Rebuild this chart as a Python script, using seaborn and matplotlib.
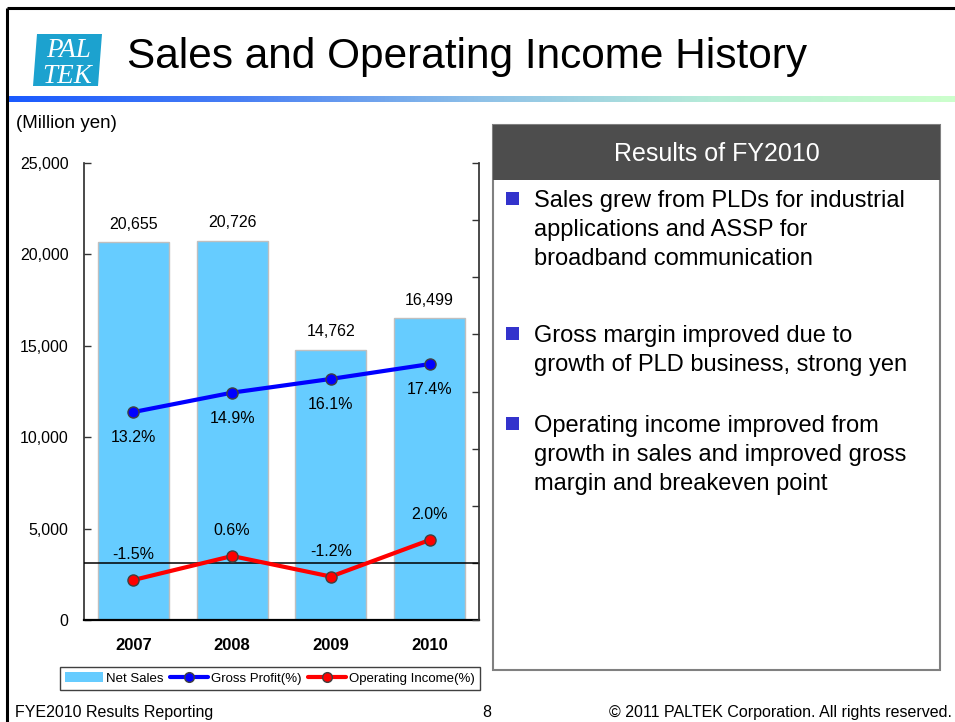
import numpy as np
import matplotlib
matplotlib.use("Agg")
import matplotlib.pyplot as plt
import seaborn as sns
from matplotlib.patches import Rectangle, Polygon, Patch
from matplotlib.lines import Line2D
from matplotlib.colors import LinearSegmentedColormap
from matplotlib.ticker import StrMethodFormatter, FixedLocator

anos = ['2007', '2008', '2009', '2010']
vendas = [20655, 20726, 14762, 16499]          # milhões de ienes
lucro_bruto = [13.2, 14.9, 16.1, 17.4]         # %
lucro_operacional = [-1.5, 0.6, -1.2, 2.0]     # %

rotulos_legenda = ['Net Sales', 'Gross Profit(%)', 'Operating Income(%)']
topicos = [
    ['Sales grew from PLDs for industrial', 'applications and ASSP for', 'broadband communication'],
    ['Gross margin improved due to', 'growth of PLD business, strong yen'],
    ['Operating income improved from', 'growth in sales and improved gross', 'margin and breakeven point'],
]

COR_BARRA = '#66CCFF'
COR_BRUTO = '#0000FF'
COR_OPER = '#FF0000'

sns.set_theme(style='white')
plt.rcParams['font.family'] = ['Liberation Sans', 'DejaVu Sans']
plt.rcParams['text.color'] = 'black'
plt.rcParams['xtick.color'] = 'black'
plt.rcParams['ytick.color'] = 'black'
plt.rcParams['axes.labelcolor'] = 'black'

W, H = 955, 722
fig = plt.figure(figsize=(W / 100, H / 100), dpi=100)

# ---------------------------------------------------------------
# fundo do slide em coordenadas de pixel
# ---------------------------------------------------------------
bg = fig.add_axes([0, 0, 1, 1], zorder=0)
bg.set_axis_off()

cmap = LinearSegmentedColormap.from_list('faixa', ['#1A5AFF', '#4A80F4', '#8FC1E8', '#B8EDD8', '#CCFFCC'])
bg.imshow(np.linspace(0, 1, 256)[None, :], extent=(7, 955, 102, 96), cmap=cmap, aspect='auto')
bg.set_xlim(0, W)
bg.set_ylim(H, 0)

bg.plot([7, 7], [8, H], color='black', lw=2.2, solid_capstyle='butt')
bg.plot([7, W], [8, 8], color='black', lw=2.2, solid_capstyle='butt')

# logo
bg.add_patch(Polygon([(37, 34), (102, 34), (98, 86), (33, 86)], closed=True, facecolor='#1CA2CF', edgecolor='none'))
bg.text(69, 57, 'PAL', color='white', fontsize=19.5, style='italic', family='Liberation Serif',
        ha='center', va='baseline')
bg.text(67, 83, 'TEK', color='white', fontsize=19.5, style='italic', family='Liberation Serif',
        ha='center', va='baseline')

bg.text(127, 68, 'Sales and Operating Income History', fontsize=30.5, ha='left', va='baseline')
bg.text(16, 128, '(Million yen)', fontsize=13.5, ha='left', va='baseline')

# painel da direita
bg.add_patch(Rectangle((493, 125), 447, 545, facecolor='white', edgecolor='#808080', lw=1.5))
bg.add_patch(Rectangle((493, 125), 447, 55, facecolor='#4D4D4D', edgecolor='none'))
bg.text(717, 161, 'Results of FY2010', color='white', fontsize=18, ha='center', va='baseline')

bases = [[207, 236, 265], [342, 371], [432, 461, 490]]
for linhas, ys in zip(topicos, bases):
    bg.add_patch(Rectangle((506, ys[0] - 15), 13, 13, facecolor='#3333CC', edgecolor='none'))
    for txt, y in zip(linhas, ys):
        bg.text(534, y, txt, fontsize=17, ha='left', va='baseline')

# rodapé
bg.text(15, 717, 'FYE2010 Results Reporting', fontsize=11.5, ha='left', va='baseline')
bg.text(487, 717, '8', fontsize=11.5, ha='center', va='baseline')
bg.text(952, 717, '© 2011 PALTEK Corporation. All rights reserved.', fontsize=11.5, ha='right', va='baseline')

# ---------------------------------------------------------------
# gráfico
# ---------------------------------------------------------------
x0, x1, y_top, y_bot = 84, 479, 163, 620
ax = fig.add_axes([x0 / W, 1 - y_bot / H, (x1 - x0) / W, (y_bot - y_top) / H], zorder=1)
ax.patch.set_alpha(0)

sns.barplot(x=anos, y=vendas, color=COR_BARRA, saturation=1, width=0.72,
            edgecolor='#BFBFBF', linewidth=1, ax=ax)
ax.set_xlim(-0.5, 3.5)
ax.set_ylim(0, 25000)
ax.set_yticks(range(0, 25001, 5000))
ax.yaxis.set_major_formatter(StrMethodFormatter('{x:,.0f}'))
ax.set_xlabel('')
ax.set_ylabel('')
ax.tick_params(axis='y', direction='in', length=5, width=1, labelsize=11.5, pad=11, color='#333333')
ax.tick_params(axis='x', which='major', length=0, pad=13, labelsize=12)
for t in ax.get_xticklabels():
    t.set_fontweight('bold')
ax.xaxis.set_minor_locator(FixedLocator([0.5, 1.5, 2.5]))
ax.tick_params(axis='x', which='minor', direction='in', length=5, width=1, color='#333333')
ax.spines['top'].set_visible(False)
ax.spines['left'].set_color('#333333')
ax.spines['bottom'].set_color('black')
ax.spines['bottom'].set_linewidth(1.6)
ax.spines['right'].set_visible(False)

for i, v in enumerate(vendas):
    ax.annotate(f'{v:,}', (i, v), xytext=(0, 10), textcoords='offset points',
                ha='center', va='baseline', fontsize=11.5)

ax2 = ax.twinx()
ax2.set_zorder(2)
ax2.patch.set_visible(False)
ax2.set_ylim(-5, 35)
ax2.set_yticks(range(-5, 36, 5))
ax2.tick_params(axis='y', direction='in', length=5, width=1, labelright=False, color='#333333')
ax2.spines['top'].set_visible(False)
ax2.spines['left'].set_visible(False)
ax2.spines['bottom'].set_visible(False)
ax2.spines['right'].set_color('#333333')
ax2.axhline(0, color='black', lw=1.1, zorder=1)

pos = np.arange(len(anos))
sns.lineplot(x=pos, y=lucro_bruto, ax=ax2, color=COR_BRUTO, lw=3, marker='o', markersize=8,
             markeredgecolor='#404040', markeredgewidth=1, zorder=3)
sns.lineplot(x=pos, y=lucro_operacional, ax=ax2, color=COR_OPER, lw=3, marker='o', markersize=8,
             markeredgecolor='#404040', markeredgewidth=1, zorder=3)
ax2.set_xlim(-0.5, 3.5)

for i, v in enumerate(lucro_bruto):
    ax2.annotate(f'{v:.1f}%', (i, v), xytext=(0, -21.6), textcoords='offset points',
                 ha='center', va='baseline', fontsize=11.5)
for i, v in enumerate(lucro_operacional):
    ax2.annotate(f'{v:.1f}%', (i, v), xytext=(0, 15), textcoords='offset points',
                 ha='center', va='baseline', fontsize=11.5)

handles = [
    Patch(facecolor=COR_BARRA, edgecolor='none'),
    Line2D([], [], color=COR_BRUTO, lw=3, marker='o', markersize=7, markeredgecolor='#404040'),
    Line2D([], [], color=COR_OPER, lw=3, marker='o', markersize=7, markeredgecolor='#404040'),
]
leg = fig.legend(handles, rotulos_legenda, loc='center', bbox_to_anchor=(270 / W, 1 - 678.5 / H),
                 ncol=3, fontsize=9.5, frameon=True, fancybox=False, edgecolor='#404040',
                 framealpha=1, handlelength=2.9, handleheight=0.75, handletextpad=0.2,
                 columnspacing=0.5, borderpad=0.4, borderaxespad=0)
leg.get_frame().set_linewidth(1)

fig.savefig('out.png', dpi=100)
plt.close(fig)
